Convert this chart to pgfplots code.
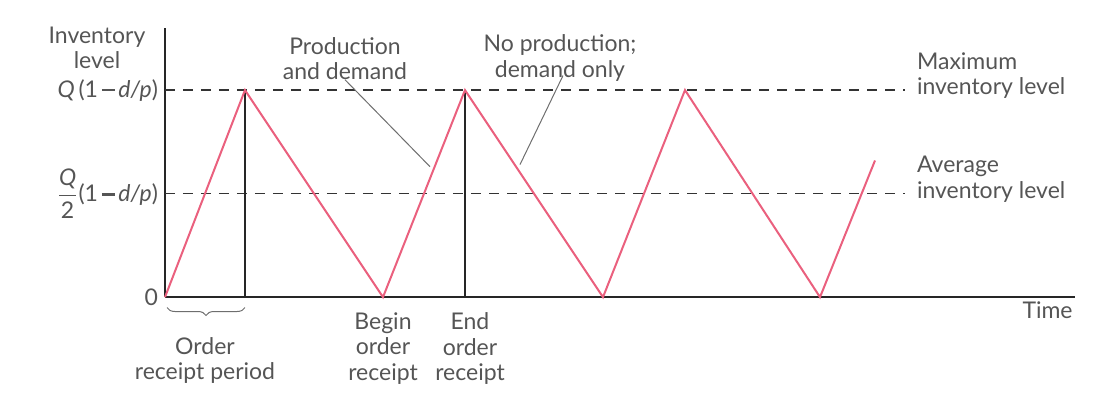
\documentclass[border=0pt]{standalone}
\usepackage{pgfplots}
\pgfplotsset{compat=1.18}
\usepackage{fontspec}
\setmainfont{Lato}
\usetikzlibrary{decorations.pathreplacing}
\definecolor{pinkline}{RGB}{234,96,126}
\definecolor{txt}{RGB}{85,85,85}
\definecolor{lead}{RGB}{110,110,110}
\newcommand{\mn}{\,\rule[0.27em]{0.55em}{1.1pt}\,}
\tikzset{lbl/.style={font=\fontsize{11.5}{12.8}\selectfont, text=txt}}
\begin{document}
\begin{tikzpicture}
\begin{axis}[
  scale only axis, width=455pt, height=134.6pt,
  xmin=0, xmax=910, ymin=0, ymax=1.30,
  axis x line=bottom, axis y line=left,
  axis line style={-, line width=0.9pt, black!85},
  xtick=\empty,
  ytick={0,0.5,1},
  yticklabels={0, {$\displaystyle\frac{\mbox{\textit{Q}}}{\mbox{2}}$(1\mn\textit{d/p})}, {\textit{Q}\,(1\mn\textit{d/p})}},
  major tick length=0pt,
  yticklabel style={font=\fontsize{11.5}{12}\selectfont, text=txt},
  clip=false,
]
% invisible bounding box (image frame)
\path (axis cs:-165,-0.459) rectangle (axis cs:939,1.435);

% dashed reference lines
\addplot[black!80, line width=0.6pt, dash pattern=on 5pt off 4pt] coordinates {(0,1) (740,1)};
\addplot[black!80, line width=0.6pt, dash pattern=on 5pt off 4pt] coordinates {(0,0.5) (740,0.5)};

% vertical lines at end of order receipt
\addplot[black!85, line width=0.7pt] coordinates {(80,0) (80,1)};
\addplot[black!85, line width=0.7pt] coordinates {(300,0) (300,1)};

% inventory level
\addplot[pinkline, line width=1pt] coordinates {
  (0,0) (80,1) (218,0) (300,1) (438,0) (520,1) (655,0) (710,0.66)};

% leader lines
\draw[lead, line width=0.5pt] (axis cs:180,1.05) -- (axis cs:265,0.63);
\draw[lead, line width=0.5pt] (axis cs:398,1.07) -- (axis cs:355,0.64);

% texts
\node[lbl, anchor=north, align=center] at (axis cs:-68,1.34) {Inventory\\level};
\node[lbl, anchor=north, align=center] at (axis cs:180,1.29) {Production\\and demand};
\node[lbl, anchor=north, align=center] at (axis cs:395,1.30) {No production;\\demand only};
\node[lbl, anchor=west, align=left] at (axis cs:745,1.07) {Maximum\\inventory level};
\node[lbl, anchor=west, align=left] at (axis cs:745,0.57) {Average\\inventory level};
\node[lbl, anchor=north east, inner sep=1pt] at (axis cs:910,-0.01) {Time};

\draw[decorate, decoration={brace, mirror, amplitude=4pt}, lead, line width=0.5pt]
  (axis cs:2,-0.05) -- (axis cs:80,-0.05);
\node[lbl, anchor=north, align=center] at (axis cs:40,-0.16) {Order\\receipt period};
\node[lbl, anchor=north, align=center] at (axis cs:218,-0.04) {Begin\\order\\receipt};
\node[lbl, anchor=north, align=center] at (axis cs:305,-0.04) {End\\order\\receipt};
\end{axis}
\end{tikzpicture}
\end{document}
